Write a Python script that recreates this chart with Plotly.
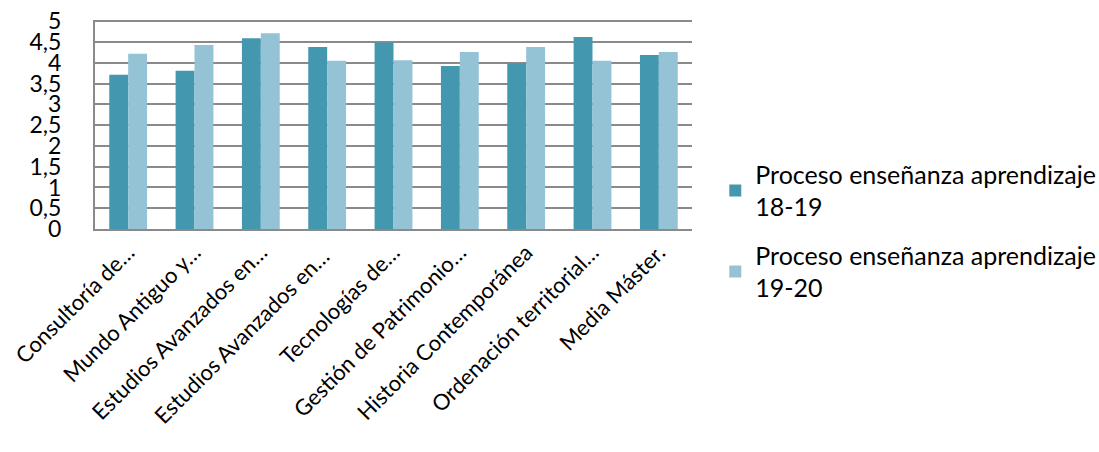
import plotly.graph_objects as go

categories = ["Consultoría de…", "Mundo Antiguo y…", "Estudios Avanzados en…",
              "Estudios Avanzados en… ", "Tecnologías de…", "Gestión de Patrimonio…",
              "Historia Contemporánea", "Ordenación territorial…", "Media Máster."]
series_1819 = [3.71, 3.81, 4.59, 4.38, 4.49, 3.92, 3.99, 4.62, 4.19]
series_1920 = [4.22, 4.43, 4.71, 4.05, 4.06, 4.26, 4.38, 4.05, 4.26]
name_1819 = "Proceso enseñanza aprendizaje<br>18-19"
name_1920 = "Proceso enseñanza aprendizaje<br>19-20"

font_family = "Lato, Open Sans, DejaVu Sans, sans-serif"

fig = go.Figure()
fig.add_trace(go.Bar(x=categories, y=series_1819, name=name_1819, legendgroup="a",
                     marker=dict(color="#4398B0", line=dict(width=0))))
fig.add_trace(go.Bar(x=categories, y=series_1920, name=name_1920, legendgroup="b",
                     marker=dict(color="#93C3D5", line=dict(width=0))))

fig.update_layout(
    width=1099, height=452,
    margin=dict(l=95, r=407, t=20, b=223, autoexpand=False),
    barmode="group", bargap=0.43, bargroupgap=0.0,
    plot_bgcolor="white", paper_bgcolor="white",
    separators=",.",
    font=dict(family=font_family, color="#000000"),
    legend=dict(x=1.039, xanchor="left", y=0.371, yanchor="top",
                font=dict(size=25, family=font_family),
                itemsizing="constant", tracegroupgap=13,
                traceorder="grouped",
                bgcolor="rgba(0,0,0,0)"),
    showlegend=True,
)
fig.update_xaxes(tickangle=-45, tickfont=dict(size=22), showgrid=False,
                 showline=True, linecolor="#8a8a8a", linewidth=2, ticks="",
                 automargin=False)
fig.update_yaxes(range=[0, 5.03], tickvals=[0, 0.5, 1, 1.5, 2, 2.5, 3, 3.5, 4, 4.5, 5],
                 tickfont=dict(size=23),
                 showgrid=True, gridcolor="#8a8a8a", gridwidth=2,
                 showline=True, linecolor="#8a8a8a", linewidth=2,
                 zeroline=False, ticks="", ticklabelstandoff=27,
                 automargin=False)

fig.write_html("out.html",
               config={"displayModeBar": False},
               post_script="document.body.style.margin='0';document.body.style.overflow='hidden';")
